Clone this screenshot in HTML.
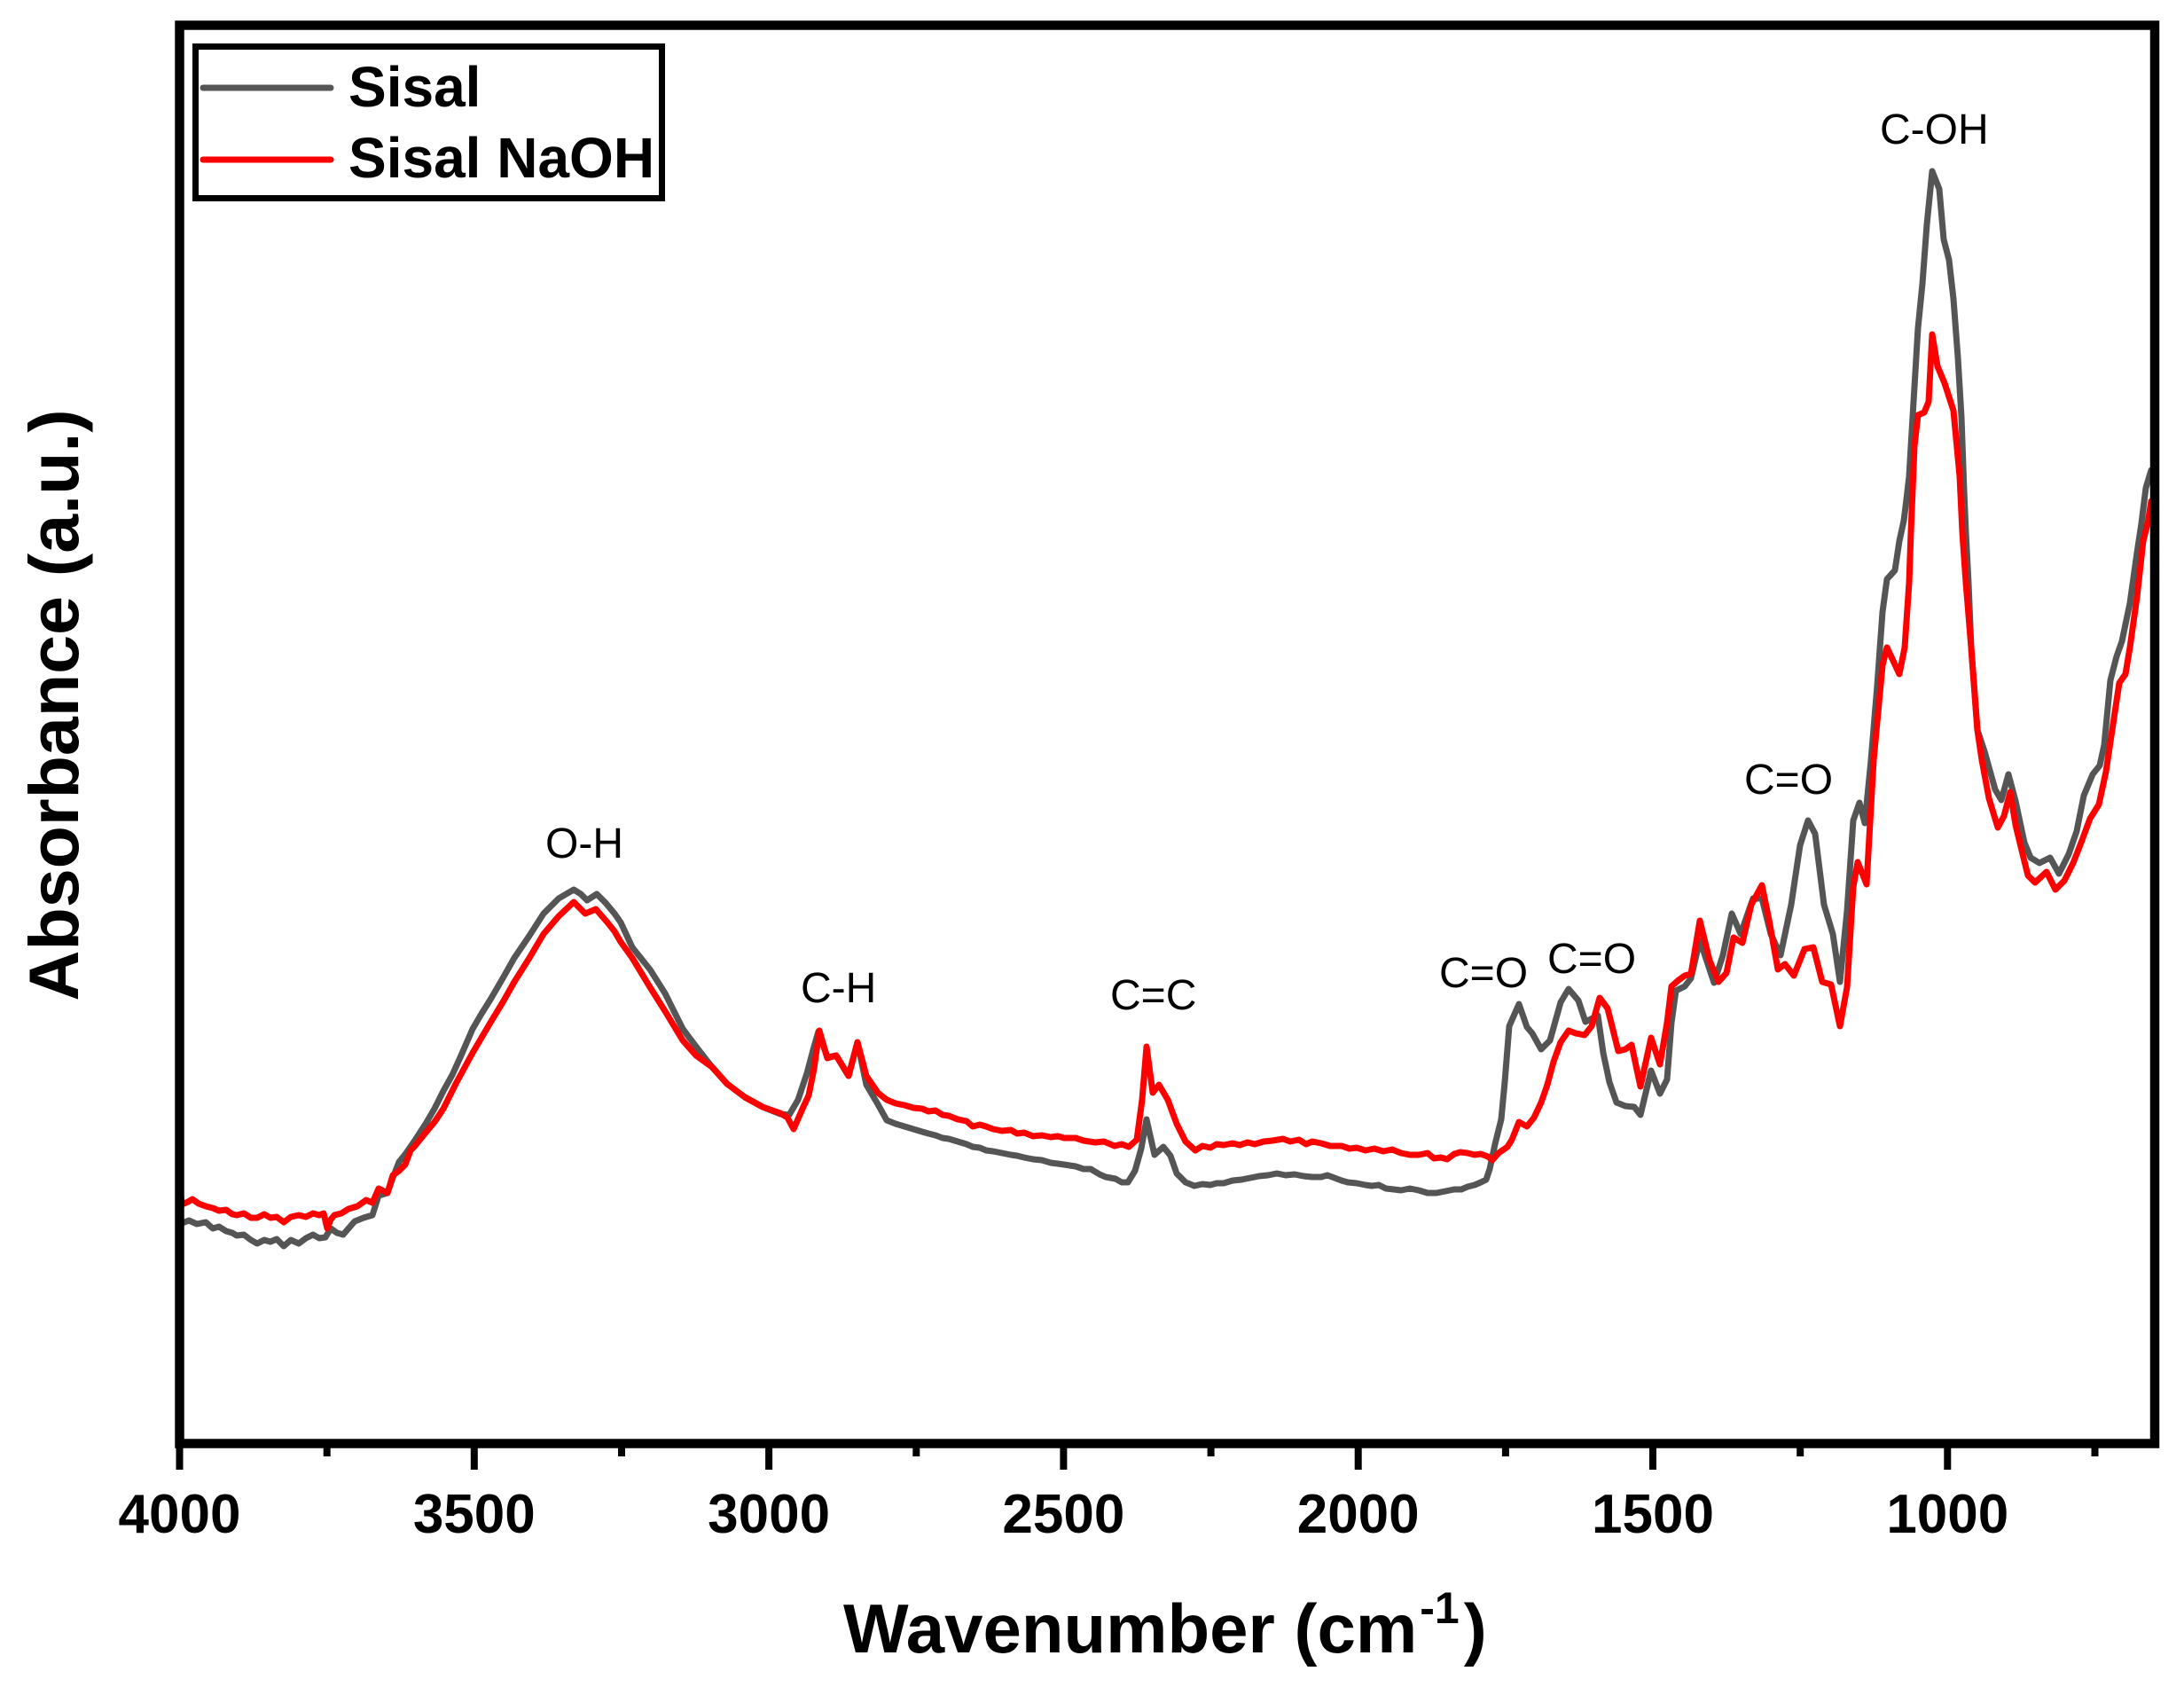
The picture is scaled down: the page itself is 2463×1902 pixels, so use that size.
<!DOCTYPE html>
<html>
<head>
<meta charset="utf-8">
<style>
html,body{margin:0;padding:0;background:#fff;}
svg{display:block;}
text{font-family:"Liberation Sans",Arial,sans-serif;fill:#000;}
</style>
</head>
<body>
<svg width="2463" height="1902" viewBox="0 0 2463 1902" xmlns="http://www.w3.org/2000/svg">
<rect x="0" y="0" width="2463" height="1902" fill="#fff"/>

<!-- Sisal (gray) -->
<polyline fill="none" stroke="#555555" stroke-width="7" stroke-linejoin="round" stroke-linecap="round" points="
203,1372 203,1380 213,1376 222,1380 232,1378 240,1385 247,1383 255,1388 262,1390 267,1393 275,1392 283,1398 290,1402 298,1398 305,1400 312,1397 320,1405 328,1398 337,1402 345,1396 353,1392 360,1396 367,1395 373,1385 380,1390 387,1392 393,1385 400,1377 410,1373 420,1370 427,1348 437,1345 443,1328 450,1310 458,1300 467,1287
480,1267 490,1250 500,1230 510,1212 520,1190 533,1160 543,1143 553,1127 567,1103 580,1080 597,1055 613,1030 630,1013 647,1003 655,1008 662,1015 673,1008 683,1018 693,1030 700,1040 713,1068
733,1093 750,1120 770,1160 785,1180 803,1203 820,1222 840,1237 860,1248 880,1256 890,1257 900,1240 910,1210 918,1180 923,1163 933,1192 943,1190 957,1213 967,1175 977,1223 990,1245
1000,1263 1010,1267 1020,1270 1030,1273 1040,1276 1047,1278 1055,1280 1063,1283 1070,1284 1080,1287 1090,1290 1097,1293 1105,1294 1112,1297 1120,1298 1130,1300 1140,1302 1147,1303 1155,1305 1165,1307 1175,1308 1185,1311 1193,1312 1200,1313 1213,1315 1222,1318 1230,1318 1240,1324 1247,1327 1258,1329 1265,1333 1272,1333 1280,1320
1287,1295 1293,1262 1302,1302 1312,1293 1320,1303 1327,1323 1337,1333 1347,1337
1356,1335 1365,1336 1372,1334 1380,1334 1390,1331 1400,1330 1410,1328 1420,1326 1430,1325 1440,1323 1450,1325 1460,1324 1470,1326 1480,1327 1490,1327 1497,1325 1505,1328 1513,1331 1520,1333 1530,1334 1540,1336 1547,1337 1555,1336 1563,1340 1572,1341 1580,1342 1590,1340 1600,1342 1610,1345 1620,1345 1630,1343 1640,1341 1648,1341 1655,1338 1663,1336 1670,1333 1676,1330 1680,1318
1686,1290 1693,1262 1697,1220 1702,1157 1713,1132 1722,1158 1728,1165 1738,1183 1748,1173 1760,1130 1769,1115 1780,1128 1788,1152 1802,1145 1808,1187 1815,1220 1823,1243 1833,1247 1843,1248 1850,1257 1862,1207 1872,1233 1880,1217 1885,1153 1890,1117 1900,1112 1907,1103 1917,1060 1933,1108 1943,1077 1953,1030 1963,1053 1977,1013 1987,1013 1997,1053 2008,1077 2020,1020 2030,953 2039,925 2047,940 2057,1020 2067,1053 2075,1107 2083,1027 2090,925 2097,905 2103,928 2110,857 2117,773 2123,690 2128,653 2137,643 2142,610 2147,587 2150,563 2153,537 2158,453 2163,370 2168,320 2173,253 2179,193 2187,213 2192,270 2198,293 2203,337 2208,403 2212,470 2215,553 2217,600 2220,657 2223,730 2230,823 2238,847 2250,890 2257,902 2265,873 2273,903 2283,950 2290,967 2300,973 2312,967 2322,985 2333,963 2342,937 2350,897 2360,873 2368,863 2373,840 2380,767 2387,740 2393,723 2402,680 2410,623 2415,590 2420,550 2426,530"/>

<!-- Sisal NaOH (red) -->
<polyline fill="none" stroke="#ff0000" stroke-width="7" stroke-linejoin="round" stroke-linecap="round" points="
203,1337 205,1358 212,1355 217,1352 224,1357 232,1360 240,1362 247,1365 255,1364 262,1369 267,1370 275,1368 283,1373 290,1373 298,1369 305,1373 312,1372 320,1378 328,1372 337,1370 345,1372 353,1368 360,1370 365,1368 369,1385 373,1375 377,1370 385,1368 393,1363 403,1360 413,1353 420,1356 427,1340 437,1345 443,1325 450,1320 457,1313 463,1297 467,1293
480,1277 490,1265 500,1250 515,1220 533,1187 553,1153 567,1130 580,1107 597,1080 613,1053 630,1033 647,1017 660,1030 672,1025 685,1040 693,1050 700,1062 713,1080
733,1113 750,1140 770,1173 785,1190 803,1203 820,1222 840,1237 860,1248 880,1255 888,1260 895,1273 905,1250 912,1235 918,1205 924,1162 933,1193 943,1190 957,1213 967,1175 977,1213 990,1232
1000,1240 1010,1244 1020,1246 1030,1249 1040,1250 1047,1253 1055,1252 1063,1257 1070,1258 1080,1262 1090,1264 1097,1270 1105,1268 1112,1270 1120,1273 1130,1275 1140,1274 1147,1278 1155,1277 1165,1281 1175,1280 1185,1282 1193,1281 1200,1283 1213,1283 1222,1286 1235,1288 1245,1287 1257,1292 1265,1290 1273,1293
1282,1285 1288,1240 1293,1180 1300,1232 1307,1223 1317,1240 1327,1267 1337,1287 1348,1297
1356,1292 1365,1294 1372,1290 1380,1291 1390,1289 1398,1291 1407,1288 1415,1290 1425,1287 1435,1286 1447,1284 1455,1287 1465,1285 1473,1290 1480,1287 1490,1289 1500,1292 1513,1292 1522,1295 1530,1294 1540,1297 1550,1295 1560,1298 1570,1296 1580,1300 1590,1302 1600,1302 1610,1300 1617,1306 1625,1305 1632,1307 1640,1301 1647,1299 1655,1300 1663,1302 1670,1301 1678,1304 1683,1308 1690,1300 1700,1293
1705,1285 1713,1265 1722,1270 1730,1260 1738,1243 1745,1223 1752,1197 1760,1175 1769,1162 1777,1165 1787,1167 1795,1157 1804,1125 1813,1137 1825,1185 1833,1183 1840,1178 1850,1225 1862,1170 1872,1200 1880,1153 1885,1112 1893,1105 1900,1100 1907,1098 1917,1038 1928,1083 1938,1107 1947,1097 1955,1057 1965,1063 1975,1020 1987,998 1995,1037 2005,1093 2013,1087 2023,1100 2035,1070 2045,1068 2055,1107 2065,1110 2075,1157 2083,1113 2090,1000 2095,972 2105,997 2113,857 2123,750 2128,730 2142,760 2148,730 2153,657 2155,600 2159,503 2163,468 2170,465 2175,453 2179,377 2185,413 2193,432 2203,463 2210,537 2213,600 2217,657 2223,730 2230,823 2235,857 2243,900 2253,933 2260,920 2267,893 2273,930 2282,967 2287,987 2295,995 2308,983 2318,1003 2328,993 2338,973 2347,950 2357,923 2367,907 2375,870 2382,823 2390,770 2397,760 2402,730 2410,673 2417,610 2422,590 2426,565"/>

<!-- Frame -->
<rect x="202.5" y="28.5" width="2227.5" height="1599" fill="none" stroke="#000" stroke-width="10.5"/>

<!-- Ticks -->
<g stroke="#000" stroke-width="8">
<line x1="202.5" y1="1627" x2="202.5" y2="1657"/>
<line x1="534.8" y1="1627" x2="534.8" y2="1657"/>
<line x1="867.1" y1="1627" x2="867.1" y2="1657"/>
<line x1="1199.4" y1="1627" x2="1199.4" y2="1657"/>
<line x1="1531.7" y1="1627" x2="1531.7" y2="1657"/>
<line x1="1864" y1="1627" x2="1864" y2="1657"/>
<line x1="2196.3" y1="1627" x2="2196.3" y2="1657"/>
<line x1="368.7" y1="1627" x2="368.7" y2="1642"/>
<line x1="701" y1="1627" x2="701" y2="1642"/>
<line x1="1033.3" y1="1627" x2="1033.3" y2="1642"/>
<line x1="1365.6" y1="1627" x2="1365.6" y2="1642"/>
<line x1="1697.9" y1="1627" x2="1697.9" y2="1642"/>
<line x1="2030.2" y1="1627" x2="2030.2" y2="1642"/>
<line x1="2362.5" y1="1627" x2="2362.5" y2="1642"/>
</g>

<!-- Tick labels -->
<g font-size="62" font-weight="bold" text-anchor="middle">
<text x="202.5" y="1728">4000</text>
<text x="534.8" y="1728">3500</text>
<text x="867.1" y="1728">3000</text>
<text x="1199.4" y="1728">2500</text>
<text x="1531.7" y="1728">2000</text>
<text x="1864" y="1728">1500</text>
<text x="2196.3" y="1728">1000</text>
</g>

<!-- Axis titles -->
<text x="951" y="1863" font-size="78" font-weight="bold">Wavenumber (cm<tspan font-size="50" dx="3" dy="-33">-1</tspan><tspan dx="5" dy="33">)</tspan></text>
<text transform="translate(88,795) rotate(-90)" text-anchor="middle" font-size="79" font-weight="bold">Absorbance (a.u.)</text>

<!-- Annotations -->
<g font-size="48">
<text x="615" y="967">O-H</text>
<text x="903" y="1130">C-H</text>
<text x="1252" y="1138">C=C</text>
<text x="1623" y="1113">C=O</text>
<text x="1745" y="1097">C=O</text>
<text x="1967" y="895">C=O</text>
<text x="2120" y="162">C-OH</text>
</g>

<!-- Legend -->
<rect x="220.5" y="52.5" width="526" height="171" fill="#fff" stroke="#000" stroke-width="7"/>
<line x1="229" y1="99" x2="373" y2="99" stroke="#555555" stroke-width="7" stroke-linecap="round"/>
<line x1="229" y1="180" x2="373" y2="180" stroke="#ff0000" stroke-width="7" stroke-linecap="round"/>
<text x="393" y="120" font-size="64" font-weight="bold">Sisal</text>
<text x="393" y="200" font-size="64" font-weight="bold">Sisal NaOH</text>
</svg>
</body>
</html>
